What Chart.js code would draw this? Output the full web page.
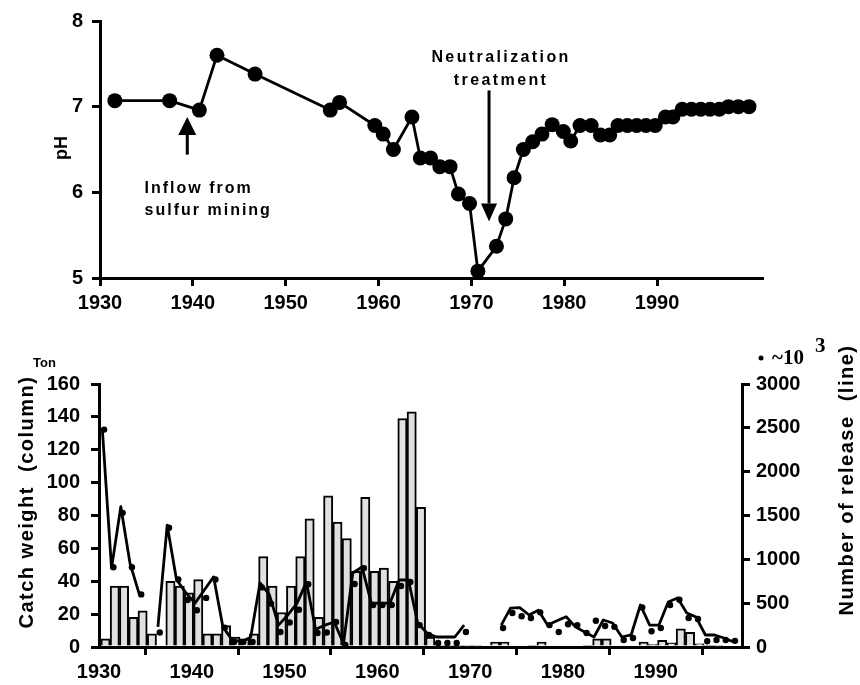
<!DOCTYPE html>
<html>
<head>
<meta charset="utf-8">
<script src="https://cdn.jsdelivr.net/npm/chart.js@4.4.1/dist/chart.umd.min.js"></script>
<style>
  html, body { margin: 0; padding: 0; background: #fff; }
  #wrap { position: relative; width: 860px; height: 685px; }
  #phBox { position: absolute; left: 0; top: 0; width: 860px; height: 320px; }
  #fishBox { position: absolute; left: 0; top: 320px; width: 860px; height: 365px; }
</style>
</head>
<body>
<div id="wrap">
  <div id="phBox"><canvas id="phChart"></canvas></div>
  <div id="fishBox"><canvas id="fishChart"></canvas></div>
</div>
<script>
// pH of the lake
const phYears = [1931.6, 1937.5, 1940.7, 1942.6, 1946.7, 1954.8, 1955.8, 1959.6, 1960.5, 1961.6,
  1963.6, 1964.5, 1965.6, 1966.6, 1967.7, 1968.6, 1969.8, 1970.7, 1972.7, 1973.7,
  1974.6, 1975.6, 1976.6, 1977.6, 1978.7, 1979.9, 1980.7, 1981.7, 1982.9, 1983.9,
  1984.9, 1985.8, 1986.8, 1987.8, 1988.8, 1989.8, 1990.9, 1991.7, 1992.7, 1993.7,
  1994.7, 1995.7, 1996.7, 1997.7, 1998.75, 1999.9];
const phValues = [7.07, 7.07, 6.96, 7.6, 7.38, 6.96, 7.05, 6.78, 6.68, 6.5,
  6.88, 6.4, 6.4, 6.3, 6.3, 5.98, 5.87, 5.08, 5.37, 5.69,
  6.17, 6.5, 6.59, 6.68, 6.79, 6.71, 6.6, 6.78, 6.78, 6.67,
  6.67, 6.78, 6.78, 6.78, 6.78, 6.78, 6.88, 6.88, 6.97, 6.97,
  6.97, 6.97, 6.97, 7.0, 7.0, 7.0];
const phTicksX = [1930, 1940, 1950, 1960, 1970, 1980, 1990];
const phTicksY = [5, 6, 7, 8];

// catch (ton) and release (x10^3) per year
const fishYears = [1930, 1931, 1932, 1933, 1934, 1935, 1936, 1937, 1938, 1939,
  1940, 1941, 1942, 1943, 1944, 1945, 1946, 1947, 1948, 1949,
  1950, 1951, 1952, 1953, 1954, 1955, 1956, 1957, 1958, 1959,
  1960, 1961, 1962, 1963, 1964, 1965, 1966, 1967, 1968, 1969,
  1970, 1971, 1972, 1973, 1974, 1975, 1976, 1977, 1978, 1979,
  1980, 1981, 1982, 1983, 1984, 1985, 1986, 1987, 1988, 1989,
  1990, 1991, 1992, 1993, 1994, 1995, 1996, 1997, 1998];
const catchTons = [5, 37, 37, 18, 22, 8, null, 40, 37, 33,
  41, 8, 8, 13, 6, 5, 8, 55, 37, 21,
  37, 55, 78, 18, 92, 76, 66, 46, 91, 46,
  48, 40, 139, 143, 85, 6, 1, 0.5, 0.5, 0.5,
  0.5, null, 3, 3, 0, 0, 1, 3, 0, 0,
  0, 0, 1, 5, 5, 0, 0, 0, 3, 1.5,
  4, 2.5, 11, 9, 2, 1, 0.5, 0, 0];
const releaseLine = [2500, 900, 1600, 950, 600, null, 230, 1390, 770, 620,
  500, 650, 800, 230, 80, 60, 110, 730, 600, 250,
  365, 500, 740, 200, 250, 285, 40, 844, 912, 500,
  500, 500, 764, 764, 274, 160, 114, 114, 114, 250,
  null, null, null, 250, 444, 450, 365, 420, 250, 300,
  345, 230, 170, 114, 308, 274, 114, 137, 479, 250,
  250, 513, 559, 388, 342, 137, 137, 103, 60];
const releaseDots = [2480, 910, 1530, 910, 600, null, 165, 1360, 770, 536,
  420, 560, 770, 220, 57, 57, 57, 680, 495, 171,
  280, 425, 715, 160, 165, 285, 23, 718, 900, 479,
  479, 479, 695, 741, 250, 137, 46, 46, 46, 171,
  null, null, null, 217, 388, 350, 330, 395, 250, 171,
  260, 250, 160, 300, 240, 230, 80, 103, 450, 180,
  217, 479, 540, 330, 320, 65, 80, 80, 70];
const fishTicksX = [1930, 1940, 1950, 1960, 1970, 1980, 1990];
const catchTicks = [0, 20, 40, 60, 80, 100, 120, 140, 160];
const releaseTicks = [0, 500, 1000, 1500, 2000, 2500, 3000];

const SANS = '"Liberation Sans", Arial, sans-serif';
const tickFont = { family: SANS, weight: 'bold', size: 20 };

function axisStyle(tickValues, padding) {
  return {
    type: 'linear',
    afterBuildTicks: s => { s.ticks = tickValues.map(v => ({ value: v })); },
    grid: { display: true, drawOnChartArea: false, drawTicks: true, tickLength: 8, color: '#000', lineWidth: 3 },
    border: { display: true, color: '#000', width: 3 },
    ticks: { color: '#000', font: tickFont, padding: padding, autoSkip: false, maxRotation: 0, callback: v => String(v) }
  };
}

function arrow(ctx, x, y0, y1, half) {
  const dir = y1 > y0 ? 1 : -1;
  const len = 18;
  ctx.lineWidth = 3;
  ctx.beginPath();
  ctx.moveTo(x, y0);
  ctx.lineTo(x, y1 - dir * len);
  ctx.stroke();
  ctx.beginPath();
  ctx.moveTo(x - half, y1 - dir * len);
  ctx.lineTo(x + half, y1 - dir * len);
  ctx.lineTo(x, y1);
  ctx.closePath();
  ctx.fill();
}

const phNotes = {
  id: 'phNotes',
  afterDraw(chart) {
    const { ctx, scales: { x, y } } = chart;
    ctx.save();
    ctx.fillStyle = '#000';
    ctx.strokeStyle = '#000';

    ctx.save();
    ctx.font = 'bold 18px ' + SANS;
    ctx.translate(62, 148);
    ctx.rotate(-Math.PI / 2);
    ctx.textAlign = 'center';
    ctx.textBaseline = 'middle';
    ctx.fillText('pH', 0, 0);
    ctx.restore();

    ctx.font = 'bold 16px ' + SANS;
    ctx.letterSpacing = '2px';
    ctx.textBaseline = 'alphabetic';
    ctx.textAlign = 'left';
    ctx.fillText('Inflow from', x.getPixelForValue(1934.8), y.getPixelForValue(5.99));
    ctx.fillText('sulfur mining', x.getPixelForValue(1934.8), y.getPixelForValue(5.73));
    ctx.letterSpacing = '2.4px';
    ctx.textAlign = 'center';
    ctx.fillText('Neutralization', x.getPixelForValue(1973.2), y.getPixelForValue(7.52));
    ctx.fillText('treatment', x.getPixelForValue(1973.2), y.getPixelForValue(7.25));
    ctx.letterSpacing = '0px';

    arrow(ctx, x.getPixelForValue(1939.4), y.getPixelForValue(6.44), y.getPixelForValue(6.88), 9);
    arrow(ctx, x.getPixelForValue(1971.9), y.getPixelForValue(7.19), y.getPixelForValue(5.66), 8);
    ctx.restore();
  }
};

new Chart(document.getElementById('phChart'), {
  type: 'line',
  data: {
    datasets: [{
      data: phYears.map((yr, i) => ({ x: yr, y: phValues[i] })),
      borderColor: '#000',
      borderWidth: 2.8,
      borderJoinStyle: 'round',
      pointRadius: 7.5,
      pointBackgroundColor: '#000',
      pointBorderWidth: 0,
      tension: 0,
      clip: false
    }]
  },
  options: {
    animation: false,
    responsive: true,
    maintainAspectRatio: false,
    devicePixelRatio: 1,
    layout: { padding: { top: 18, right: 98, left: 0, bottom: 0 } },
    plugins: { legend: { display: false }, tooltip: { enabled: false } },
    scales: {
      x: Object.assign(axisStyle(phTicksX, 5), { min: 1930, max: 2001.3, afterFit: s => { s.height = 42; } }),
      y: Object.assign(axisStyle(phTicksY, 9), { min: 5, max: 8, afterFit: s => { s.width = 100; } })
    }
  },
  plugins: [phNotes]
});

const fishNotes = {
  id: 'fishNotes',
  afterDraw(chart) {
    const ctx = chart.ctx;
    ctx.save();
    ctx.fillStyle = '#000';

    ctx.font = 'bold 13px ' + SANS;
    ctx.textAlign = 'left';
    ctx.textBaseline = 'alphabetic';
    ctx.fillText('Ton', 33, 47);

    ctx.font = 'bold 20px ' + SANS;
    ctx.letterSpacing = '1.5px';
    ctx.textAlign = 'center';
    ctx.textBaseline = 'middle';
    ctx.save();
    ctx.translate(27, 182);
    ctx.rotate(-Math.PI / 2);
    ctx.fillText('Catch weight  (column)', 0, 0);
    ctx.restore();
    ctx.save();
    ctx.translate(847, 160);
    ctx.rotate(-Math.PI / 2);
    ctx.fillText('Number of release  (line)', 0, 0);
    ctx.restore();
    ctx.letterSpacing = '0px';

    ctx.beginPath();
    ctx.arc(761, 38, 2.5, 0, Math.PI * 2);
    ctx.fill();
    ctx.font = 'bold 21px "Liberation Serif", "Times New Roman", serif';
    ctx.textAlign = 'left';
    ctx.textBaseline = 'alphabetic';
    ctx.fillText('~10', 772, 44);
    ctx.fillText('3', 815, 32);
    ctx.restore();
  }
};

new Chart(document.getElementById('fishChart'), {
  type: 'bar',
  data: {
    datasets: [
      {
        type: 'scatter',
        yAxisID: 'y1',
        order: 1,
        data: fishYears.map((yr, i) => ({ x: yr + 0.55, y: releaseDots[i] })),
        pointRadius: 3.2,
        pointBackgroundColor: '#000',
        pointBorderWidth: 0,
        clip: false
      },
      {
        type: 'line',
        yAxisID: 'y1',
        order: 2,
        data: fishYears.map((yr, i) => ({ x: yr + 0.35, y: releaseLine[i] })),
        borderColor: '#000',
        borderWidth: 2.8,
        borderJoinStyle: 'round',
        pointRadius: 0,
        tension: 0,
        spanGaps: false,
        clip: false
      },
      {
        type: 'bar',
        yAxisID: 'y',
        order: 3,
        data: fishYears.map((yr, i) => ({ x: yr + 0.7, y: catchTons[i] })),
        backgroundColor: '#e0e0e0',
        borderColor: '#000',
        borderWidth: 2,
        borderSkipped: 'start',
        barPercentage: 1,
        categoryPercentage: 1
      }
    ]
  },
  options: {
    animation: false,
    responsive: true,
    maintainAspectRatio: false,
    devicePixelRatio: 1,
    layout: { padding: { top: 64, right: 0, left: 0, bottom: 0 } },
    plugins: { legend: { display: false }, tooltip: { enabled: false } },
    scales: {
      x: Object.assign(axisStyle(fishTicksX, 5), { min: 1930, max: 1999.3, offset: false, afterFit: s => { s.height = 38; } }),
      y: Object.assign(axisStyle(catchTicks, 11), { position: 'left', min: 0, max: 160, afterFit: s => { s.width = 99; } }),
      y1: Object.assign(axisStyle(releaseTicks, 6), { position: 'right', min: 0, max: 3000, afterFit: s => { s.width = 118; } })
    }
  },
  plugins: [fishNotes]
});
</script>
</body>
</html>
